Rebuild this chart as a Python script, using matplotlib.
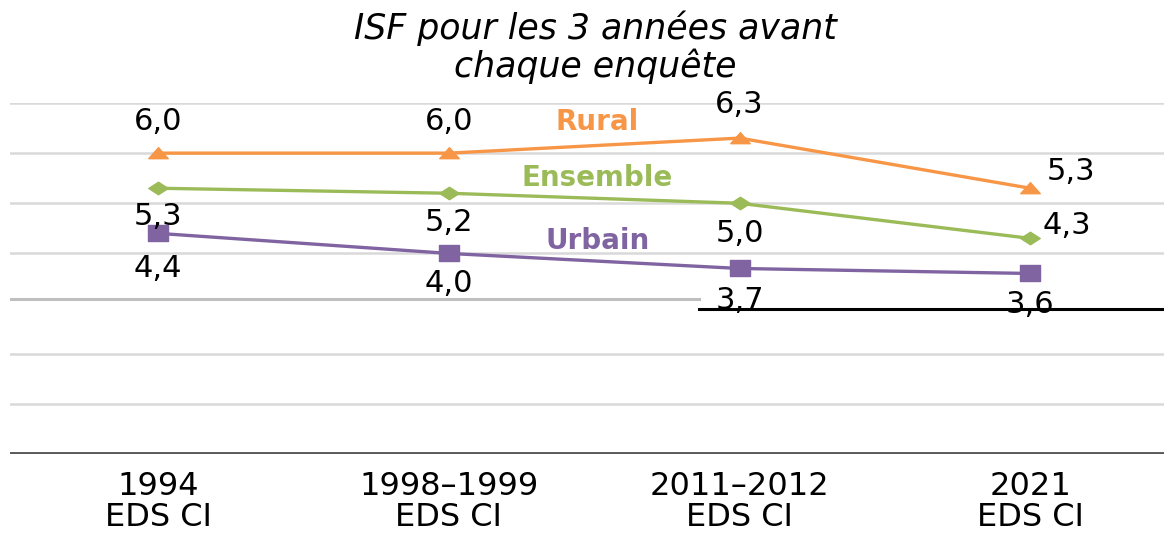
"""plot.py

ISF (indice synthétique de fécondité) par milieu de résidence, EDS CI.
"""
import matplotlib as mpl
mpl.use("Agg")

import matplotlib.pyplot as plt
from matplotlib.path import Path

categories = ["1994\nEDS CI", "1998\u20131999\nEDS CI", "2011\u20132012\nEDS CI", "2021\nEDS CI"]
rural = [6.0, 6.0, 6.3, 5.3]
ensemble = [5.3, 5.2, 5.0, 4.3]
urbain = [4.4, 4.0, 3.7, 3.6]

ORANGE = "#F79646"
GREEN = "#9BBB59"
PURPLE = "#8064A2"

plt.rcParams["font.family"] = ["DejaVu Sans"]

# wide markers (source picture is stretched horizontally)
diamond = Path([(-1.4, 0), (0, 0.9), (1.4, 0), (0, -0.9), (-1.4, 0)], closed=True)
square = Path([(-1.25, -1), (1.25, -1), (1.25, 1), (-1.25, 1), (-1.25, -1)], closed=True)
triangle = Path([(-1.5, -0.8), (1.5, -0.8), (0, 0.9), (-1.5, -0.8)], closed=True)

fig = plt.figure(figsize=(11.64, 5.35), dpi=100)
ax = fig.add_axes([10 / 1164, 1 - 454 / 535, 1154 / 1164, 351 / 535])

x = list(range(len(categories)))

# gridlines
for g in [1, 2, 4, 5, 6, 7]:
    ax.axhline(g, color="#D9D9D9", lw=1.8, zorder=0)
ax.plot([-0.51, 1.86], [3.1, 3.1], color="#BFBFBF", lw=2.2, zorder=0)
ax.plot([1.86, 3.5], [2.9, 2.9], color="black", lw=2.2, zorder=0, clip_on=False)
ax.axhline(0, color="#595959", lw=2.8, zorder=1)

series = [
    ("Rural", rural, ORANGE, triangle, 14),
    ("Ensemble", ensemble, GREEN, diamond, 14),
    ("Urbain", urbain, PURPLE, square, 15),
]
offsets = {
    "Rural": [(0, 23), (0, 23), (0, 24), (29, 12)],
    "Ensemble": [(0, -20), (0, -21), (0, -22), (26, 9)],
    "Urbain": [(0, -25), (0, -22), (0, -23), (0, -22)],
}
name_pos = {"Rural": (1.51, 6.62), "Ensemble": (1.51, 5.5), "Urbain": (1.51, 4.24)}

for name, vals, col, mk, ms in series:
    ax.plot(x, vals, color=col, lw=2.4, marker=mk, markersize=ms, zorder=3)
    for xi, v, off in zip(x, vals, offsets[name]):
        ax.annotate(f"{v:.1f}".replace(".", ","), (xi, v), xytext=off,
                    textcoords="offset points", ha="center", va="center",
                    fontsize=22, color="black", zorder=4, annotation_clip=False)
    ax.text(*name_pos[name], name, color=col, fontsize=20, fontweight="bold",
            ha="center", va="center")

ax.set_xlim(-0.51, 3.46)
ax.set_ylim(0, 7)
ax.set_xticks(x)
ax.set_xticklabels(categories, fontsize=23, linespacing=1.02)
ax.tick_params(axis="x", length=0, pad=12)
ax.set_yticks([])
for s in ax.spines.values():
    s.set_visible(False)

fig.text(595 / 1164, 1 - 47 / 535, "ISF pour les 3 années avant\nchaque enquête",
         ha="center", va="center", fontsize=25, style="italic", linespacing=1.1)

fig.savefig("out.png", dpi=100)
